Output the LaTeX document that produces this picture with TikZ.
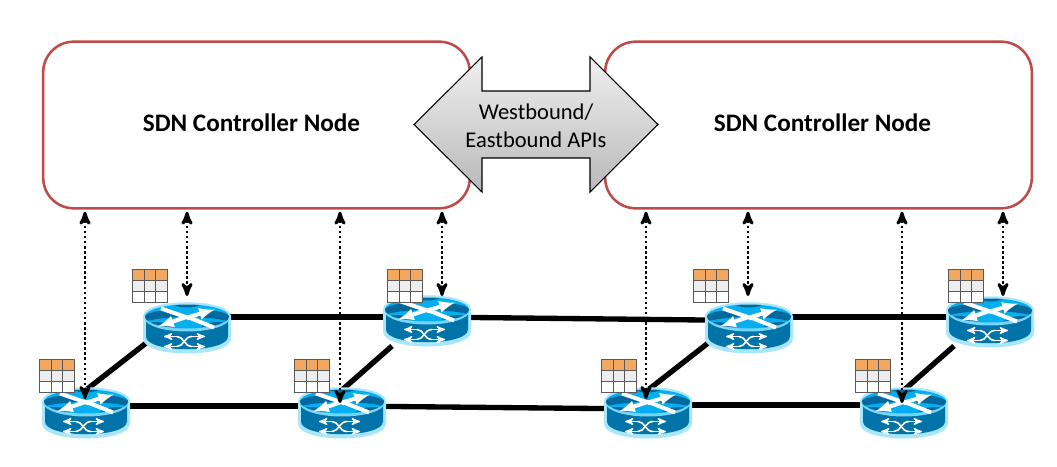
\documentclass[tikz,border=0pt]{standalone}
\usepackage{fontspec}
\setmainfont{Carlito}
\usetikzlibrary{arrows,positioning,backgrounds,calc}
\definecolor{ctrlred}{HTML}{BE4B48}
\definecolor{rtrhalo}{HTML}{A8E6FC}
\definecolor{rtrbody}{HTML}{0073A8}
\definecolor{rtrtop}{HTML}{05AEEF}
\definecolor{rtrdark}{HTML}{04689C}
\definecolor{taborange}{HTML}{F2A860}
\definecolor{tabgray}{HTML}{EDEDED}
\tikzset{
ctrlnode/.style={
    rectangle,
    rounded corners=23pt,
    minimum width=320pt,
    minimum height=125pt,
    inner sep=0pt,
    draw=ctrlred,
    line width=1.9pt,
    fill=white
},
ctrllabel/.style={
    inner sep=0pt,
    font=\fontsize{18.9}{22}\selectfont\bfseries
},
apilabel/.style={
    inner sep=0pt,
    align=center,
    font=\fontsize{16.9}{21}\selectfont
},
apiarrow/.style={
    draw=black,
    line width=0.8pt,
    top color=gray!12,
    bottom color=gray!55
},
link/.style={
    black,line width=4pt
},
syncdep/.style={
    black,line width=2.2pt,dash pattern=on 1.9pt off 1.9pt,>=stealth'
},
rtrarrow/.style={
    white,line width=3pt,>=latex
},
rtrport/.style={
    white,line width=1.2pt,>=stealth'
},
tabline/.style={
    draw=black!65,line width=0.6pt
},
}
\tikzset{router/.pic={
%
\fill [rtrhalo] (-44,-11) .. controls (-44,-30) and (44,-30) .. (44,-11) -- (44,11)
    .. controls (44,31) and (-44,31) .. (-44,11) -- cycle;
\fill [rtrbody] (-41,-8) -- (-41,9) .. controls (-41,26) and (41,26) .. (41,9) -- (41,-8) -- cycle;
\fill [rtrhalo!70!rtrtop] (0,-9) ellipse [x radius=42, y radius=13];
\begin{scope}
\clip (0,-11) ellipse [x radius=42, y radius=12];
\fill [rtrtop] (-42,-23) rectangle (42,1);
\fill [rtrdark] (-42,-12) .. controls (-28,-20) and (-18,-16) .. (-8,-11)
    .. controls (-18,-9) and (-28,-10) .. (-42,-6) -- cycle;
\fill [rtrdark] (42,-12) .. controls (28,-20) and (18,-16) .. (8,-11)
    .. controls (18,-9) and (28,-10) .. (42,-6) -- cycle;
\fill [rtrdark] (-14,-23) .. controls (-6,-19) and (6,-19) .. (14,-23) -- cycle;
\fill [rtrdark] (-42,-4) .. controls (-30,-7) and (-20,-5) .. (-14,-1) -- (-42,1) -- cycle;
\fill [rtrdark] (42,-4) .. controls (30,-7) and (20,-5) .. (14,-1) -- (42,1) -- cycle;
\end{scope}
\draw [rtrarrow] (-26,-19) -- (3,-9);
\draw [->,rtrarrow] (0,-10) -- (28,-18);
\draw [->,rtrarrow] (-2,-10) -- (-29,-1);
\draw [rtrarrow] (2,-10) -- (27,0);
\draw [rtrport] (-10,9) .. controls (-3,9) and (-3,19) .. (5,19);
\draw [rtrport] (-10,19) .. controls (-3,19) and (-3,9) .. (5,9);
\draw [<-,rtrport] (-23,9) -- (-10,9);
\draw [<-,rtrport] (-23,19) -- (-10,19);
\draw [->,rtrport] (5,9) -- (18,9);
\draw [->,rtrport] (5,19) -- (18,19);
%
}}
\tikzset{flowtable/.pic={
%
\fill [taborange] (0,0) rectangle (35,11);
\fill [tabgray] (0,11) rectangle (35,22);
\fill [white] (0,22) rectangle (35,33);
\draw [tabline] (0,0) rectangle (35,33);
\draw [tabline] (0,11) -- (35,11);
\draw [tabline] (0,22) -- (35,22);
\draw [tabline] (12,0) -- (12,33);
\draw [tabline] (23,0) -- (23,33);
%
}}

\begin{document}
\begin{tikzpicture}[x=0.75pt,y=-0.75pt]

\useasboundingbox (0,0) rectangle (1057,467);

\node [ctrlnode] (left) at (256.5,125) {};
\node [ctrlnode] (right) at (818.5,125) {};
\node [ctrllabel] (leftlabel) at (251.5,123) {SDN Controller Node};
\node [ctrllabel] (rightlabel) at (822.5,123) {SDN Controller Node};

\draw [apiarrow] (414,124.5) -- (482,57) -- (482,91) -- (590,91) -- (590,57) -- (658,124.5)
    -- (590,192) -- (590,158) -- (482,158) -- (482,192) -- cycle;
\node [apilabel] (apis) at (536,126) {Westbound/\\Eastbound APIs};

% backbone
\coordinate (t1) at (187,317);
\coordinate (t2) at (427,317);
\coordinate (t3a) at (749,320.5);
\coordinate (t3b) at (749,317);
\coordinate (t4) at (990,317);
\coordinate (b1) at (86,406);
\coordinate (b2) at (342,406);
\coordinate (b3a) at (648,409);
\coordinate (b3b) at (648,405);
\coordinate (b4) at (904,405);

\begin{scope}[on background layer]
\draw [link] (t1) -- (t2);
\draw [link] (t2) -- (t3a);
\draw [link] (t3b) -- (t4);
\draw [link] (b1) -- (b2);
\draw [link] (b2) -- (b3a);
\draw [link] (b3b) -- (b4);
\end{scope}

\coordinate (d1a) at (86,390);
\coordinate (d1b) at (150,340);
\coordinate (d2a) at (342,390);
\coordinate (d2b) at (392,346);
\coordinate (d3a) at (648,390);
\coordinate (d3b) at (712,340);
\coordinate (d4a) at (904,390);
\coordinate (d4b) at (954,346);
\draw [link] (d1a) -- (d1b);
\draw [link] (d2a) -- (d2b);
\draw [link] (d3a) -- (d3b);
\draw [link] (d4a) -- (d4b);

\pic (r1-) at (187,327.5) {router};
\pic (r2-) at (427,320.5) {router};
\pic (r3-) at (749,327.5) {router};
\pic (r4-) at (990,321.5) {router};
\pic (r5-) at (86,412.5) {router};
\pic (r6-) at (342,412.5) {router};
\pic (r7-) at (648,412.5) {router};
\pic (r8-) at (904,412.5) {router};

\pic (t1-) at (132,269) {flowtable};
\pic (t2-) at (387,269) {flowtable};
\pic (t3-) at (693,269) {flowtable};
\pic (t4-) at (948,269) {flowtable};
\pic (t5-) at (39,359) {flowtable};
\pic (t6-) at (294,359) {flowtable};
\pic (t7-) at (601,359) {flowtable};
\pic (t8-) at (855,359) {flowtable};

% controller sessions
\coordinate (s1) at (85,399);
\coordinate (s2) at (187,296);
\coordinate (s3) at (340,403);
\coordinate (s4) at (442,296);
\coordinate (s5) at (646,399);
\coordinate (s6) at (748,296);
\coordinate (s7) at (902,403);
\coordinate (s8) at (1003,296);

\draw [<->,syncdep] (s1 |- left.south) ++(0,2) -- (s1);
\draw [<->,syncdep] (s2 |- left.south) ++(0,2) -- (s2);
\draw [<->,syncdep] (s3 |- left.south) ++(0,2) -- (s3);
\draw [<->,syncdep] (s4 |- left.south) ++(0,2) -- (s4);
\draw [<->,syncdep] (s5 |- right.south) ++(0,2) -- (s5);
\draw [<->,syncdep] (s6 |- right.south) ++(0,2) -- (s6);
\draw [<->,syncdep] (s7 |- right.south) ++(0,2) -- (s7);
\draw [<->,syncdep] (s8 |- right.south) ++(0,2) -- (s8);

\end{tikzpicture}
\end{document}
